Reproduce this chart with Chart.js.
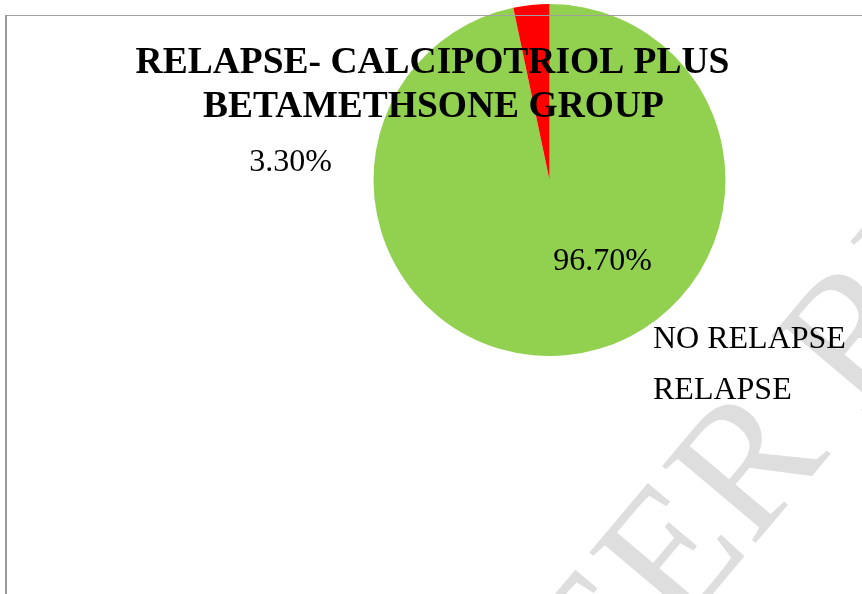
<!DOCTYPE html>
<html>
<head>
<meta charset="utf-8">
<script src="https://cdn.jsdelivr.net/npm/chart.js@4.4.1/dist/chart.umd.min.js"></script>
<style>
  html, body { margin: 0; padding: 0; background: #ffffff; }
  #wrap { position: relative; width: 862px; height: 594px; }
  canvas { display: block; }
</style>
</head>
<body>
<div id="wrap"><canvas id="c" width="862" height="594"></canvas></div>
<script>
const titleLines = ["RELAPSE- CALCIPOTRIOL PLUS", "BETAMETHSONE GROUP"];
const categories = ["NO RELAPSE", "RELAPSE"];
const values = [96.7, 3.3];
const valueLabels = ["96.70%", "3.30%"];
const colors = ["#92D050", "#FF0000"];
const watermark = "PEER REVIEW";

const SERIF = '"Liberation Serif", "Times New Roman", serif';

const decorPlugin = {
  id: 'decor',
  beforeDraw(chart) {
    const ctx = chart.ctx;
    ctx.save();
    ctx.fillStyle = '#ffffff';
    ctx.fillRect(0, 0, chart.width, chart.height);
    // watermark
    ctx.translate(540, 800);
    ctx.rotate(-50 * Math.PI / 180);
    ctx.fillStyle = '#dedede';
    ctx.font = '185px ' + SERIF;
    ctx.textAlign = 'left';
    ctx.textBaseline = 'alphabetic';
    ctx.fillText(watermark, 0, 0);
    ctx.restore();
  },
  afterDraw(chart) {
    const ctx = chart.ctx;
    const arcs = chart.getDatasetMeta(0).data;
    const cx = arcs[0].x, cy = arcs[0].y;
    ctx.save();
    ctx.fillStyle = '#000000';
    // title
    ctx.font = 'bold 37.5px ' + SERIF;
    ctx.textAlign = 'center';
    ctx.textBaseline = 'alphabetic';
    ctx.fillText(titleLines[0], cx - 117, cy - 107);
    ctx.fillText(titleLines[1], cx - 116, cy - 63);
    // value labels (manually placed as in the original)
    ctx.font = '32px ' + SERIF;
    const labelOffsets = [[53, 90], [-259, -9]];
    valueLabels.forEach((t, i) => {
      ctx.fillText(t, cx + labelOffsets[i][0], cy + labelOffsets[i][1]);
    });
    // legend (text only)
    ctx.textAlign = 'left';
    categories.forEach((t, i) => {
      ctx.fillText(t, 653, 348 + i * 51);
    });
    // frame lines
    ctx.fillStyle = '#a0a0a0';
    ctx.fillRect(6, 15, 862 - 6, 1);
    ctx.fillStyle = '#999999';
    ctx.fillRect(5, 15, 2, 594 - 15);
    ctx.restore();
  }
};

new Chart(document.getElementById('c'), {
  type: 'pie',
  data: {
    labels: categories,
    datasets: [{
      data: values,
      backgroundColor: colors,
      borderWidth: 0,
      hoverOffset: 0
    }]
  },
  options: {
    responsive: false,
    animation: false,
    events: [],
    layout: { padding: { top: 4, bottom: 238, left: 373.5, right: 136.5 } },
    plugins: {
      legend: { display: false },
      title: { display: false },
      tooltip: { enabled: false }
    }
  },
  plugins: [decorPlugin]
});
</script>
</body>
</html>
